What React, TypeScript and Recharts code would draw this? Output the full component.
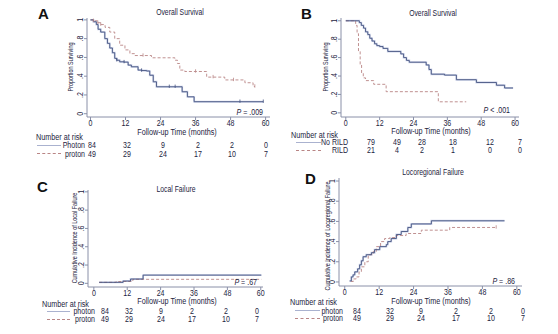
import React from "react";
import { LineChart, Line, XAxis, YAxis } from "recharts";

// Four Kaplan-Meier style panels (A-D) with number-at-risk tables.

const FONT = '"Liberation Sans", Arial, sans-serif';
const TEXT = "#1c2340";
const AXIS = "#8a90a8";
const SOLID = "#44527f";
const HALO = "#cdd4ea";
const DASH = "#b98585";

const X_TICKS = [0, 12, 24, 36, 48, 60];
const Y_TICKS = [0, 0.2, 0.4, 0.6, 0.8, 1];

// [time, value, censored?]
type Pt = [number, number, number?];

const osPhoton: Pt[] = [
  [0, 1], [1, 0.98], [2, 0.95], [2.6, 0.9], [3.5, 0.87], [4.9, 0.8], [5.8, 0.75],
  [6.6, 0.7], [7.5, 0.65], [8.3, 0.59], [9, 0.57, 1], [10, 0.553], [11.5, 0.55, 1],
  [12.9, 0.518], [14, 0.5], [16.3, 0.465], [17.5, 0.46, 1], [19.2, 0.455], [20.3, 0.41],
  [21.5, 0.34], [22.6, 0.287], [27, 0.287, 1], [29, 0.287, 1], [31.4, 0.234],
  [33.2, 0.18], [35.5, 0.128], [51.2, 0.128, 1], [59.2, 0.128, 1],
];
const osProton: Pt[] = [
  [0, 1], [1, 0.99, 1], [2.5, 0.97, 1], [3.5, 0.95, 1], [5, 0.92], [6.6, 0.87],
  [8.3, 0.8], [10, 0.73], [11.8, 0.68], [13.5, 0.64], [15.2, 0.62], [18, 0.62, 1],
  [20.9, 0.596], [28.9, 0.57], [29.8, 0.535], [30.6, 0.465], [32.3, 0.45],
  [36, 0.45, 1], [39.8, 0.39], [42, 0.39, 1], [46, 0.36], [49, 0.36, 1],
  [52.9, 0.33], [55.7, 0.29], [56.3, 0.29, 1],
];

const osNoRild: Pt[] = [
  [0, 1], [4.8, 0.98], [5.5, 0.95], [6.3, 0.92], [7, 0.88], [7.8, 0.85], [8.5, 0.81],
  [9.3, 0.78], [10.2, 0.75], [11, 0.73], [12, 0.72], [13.2, 0.7], [14.9, 0.667],
  [19.5, 0.64], [20.5, 0.6], [21.5, 0.57], [22.5, 0.55], [28.5, 0.52], [29.5, 0.47],
  [30.3, 0.42], [35, 0.41], [39.2, 0.36], [46.3, 0.33], [53.4, 0.3], [56.3, 0.27],
  [59.3, 0.27],
];
const osRild: Pt[] = [
  [0, 1], [3.5, 0.95], [4, 0.86], [4.5, 0.67], [5.1, 0.52], [5.6, 0.43], [6.2, 0.38],
  [7, 0.35], [9.9, 0.31], [14.3, 0.23], [32.8, 0.12], [42.7, 0.12],
];

const lfPhoton: Pt[] = [[1.9, 0.011], [10.5, 0.025], [13.2, 0.047], [17.7, 0.09], [60.2, 0.09]];
const lfProton: Pt[] = [[1.9, 0.011], [8, 0.02], [13.5, 0.035], [14.2, 0.044], [60.2, 0.044]];

const lrPhoton: Pt[] = [
  [1.7, 0.01], [2.3, 0.05], [2.9, 0.07], [3.5, 0.1], [4.5, 0.13], [5.2, 0.17], [5.8, 0.21],
  [6.4, 0.25], [7.5, 0.27], [9.3, 0.29], [10.4, 0.32], [12.2, 0.35], [14.5, 0.37],
  [15, 0.4], [16.2, 0.43], [18, 0.47], [19.7, 0.5], [22, 0.54], [23.2, 0.575],
  [30.2, 0.606], [55.7, 0.606],
];
const lrProton: Pt[] = [
  [2.2, 0.005], [3, 0.03], [4, 0.05], [5, 0.1], [5.8, 0.15], [7, 0.2], [8.2, 0.27],
  [9.9, 0.3], [11, 0.35], [12.5, 0.4], [13.9, 0.43], [15.7, 0.44], [18, 0.46],
  [21.4, 0.48], [26.7, 0.513], [36.6, 0.54], [52.8, 0.54, 1],
];

const riskPhoton = [84, 32, 9, 2, 2, 0];
const riskProton = [49, 29, 24, 17, 10, 7];
const riskNoRild = [79, 49, 28, 18, 12, 7];
const riskRild = [21, 4, 2, 1, 0, 0];

const toRows = (pts: Pt[]) => pts.map(([t, s, c]) => ({ t, s, c: c ? 1 : 0 }));

type P = {
  letter: string; letterPos: [number, number];
  title: string; titlePos: [number, number];
  yLabel: string; yLabelPos: [number, number];
  xTitlePos: [number, number];
  box: { l: number; r: number; t: number; b: number };
  xDom: [number, number]; yDom: [number, number];
  solid: Pt[]; dashed: Pt[];
  names: [string, string];
  risk: [number[], number[]];
  riskX: number[];
  rowsY: [number, number]; narPos: [number, number];
  lineX: [number, number]; nameR: number;
  pText: string; pPos: [number, number];
};

const panels: P[] = [
  {
    letter: "A", letterPos: [38, 13], title: "Overall Survival", titlePos: [180, 11.5],
    yLabel: "Proportion Surviving", yLabelPos: [70.7, 66.5], xTitlePos: [176.7, 131.5],
    box: { l: 87, r: 270, t: 18, b: 117 }, xDom: [-1.2, 61.5], yDom: [-0.035, 1.02],
    solid: osPhoton, dashed: osProton, names: ["Photon", "proton"],
    risk: [riskPhoton, riskProton], riskX: [91.5, 126.7, 163, 198.3, 232.3, 266],
    rowsY: [145, 153.5], narPos: [36, 137], lineX: [37, 61], nameR: 85,
    pText: ".009", pPos: [263, 111.7],
  },
  {
    letter: "B", letterPos: [301, 13], title: "Overall Survival", titlePos: [433, 13.3],
    yLabel: "Proportion Surviving", yLabelPos: [326.3, 66.7], xTitlePos: [431.3, 131],
    box: { l: 341, r: 519, t: 18, b: 117 }, xDom: [-1.7, 61.4], yDom: [-0.045, 1.03],
    solid: osNoRild, dashed: osRild, names: ["No RILD", "RILD"],
    risk: [riskNoRild, riskRild], riskX: [371.3, 397, 422, 453, 490, 519.7],
    rowsY: [142, 150], narPos: [291, 135], lineX: [296, 321], nameR: 348,
    pText: "< .001", pPos: [510.3, 110],
  },
  {
    letter: "C", letterPos: [37, 186], title: "Local Failure", titlePos: [175.7, 189],
    yLabel: "Cumulative Incidence of Local Failure", yLabelPos: [75, 238], xTitlePos: [177.3, 301.2],
    box: { l: 88, r: 263, t: 190, b: 287 }, xDom: [-2.1, 60.8], yDom: [-0.04, 1.02],
    solid: lfPhoton, dashed: lfProton, names: ["photon", "proton"],
    risk: [riskPhoton, riskProton], riskX: [105, 129, 161, 192.3, 225.7, 257.3],
    rowsY: [311, 319], narPos: [41.7, 304], lineX: [46.7, 70], nameR: 95,
    pText: ".67", pPos: [256.7, 282.3],
  },
  {
    letter: "D", letterPos: [305, 178], title: "Locoregional Failure", titlePos: [433, 172.3],
    yLabel: "Cumulative Incidence of Locoregional Failure", yLabelPos: [328, 236], xTitlePos: [431.3, 301],
    box: { l: 339, r: 522, t: 178, b: 286 }, xDom: [-2, 61.8], yDom: [-0.04, 1.03],
    solid: lrPhoton, dashed: lrProton, names: ["photon", "proton"],
    risk: [riskPhoton, riskProton], riskX: [357, 390.3, 421.3, 456.3, 491.3, 523],
    rowsY: [310.7, 318.3], narPos: [290, 302], lineX: [294.7, 319.7], nameR: 343,
    pText: ".86", pPos: [515.3, 280.7],
  },
];

// narrow-looking text: Liberation Sans squeezed horizontally
function T({ x, y, children, anchor = "middle", size = 8.5, sx = 0.85, rot = false, style = {} }: any) {
  const tx = anchor === "middle" ? "-50%" : anchor === "end" ? "-100%" : "0";
  const origin = anchor === "middle" ? "center" : anchor === "end" ? "right center" : "left center";
  return (
    <div
      style={{
        position: "absolute", left: x, top: y, whiteSpace: "nowrap", lineHeight: 1,
        fontFamily: FONT, fontSize: size, color: TEXT, transformOrigin: rot ? "center" : origin,
        transform: rot
          ? `translate(-50%, -50%) rotate(-90deg) scaleX(${sx})`
          : `translate(${tx}, -50%) scaleX(${sx})`,
        ...style,
      }}
    >
      {children}
    </div>
  );
}

const yFmt = (v: number) => (v === 0 ? "0" : v === 1 ? "1" : "." + Math.round(v * 10));

function YTick(props: any) {
  const { x, y, payload } = props;
  return (
    <text transform={`translate(${x} ${y}) rotate(-90) scale(0.85 1)`} textAnchor="middle"
      fontSize={8.3} fill={TEXT} fontFamily={FONT}>
      {yFmt(payload.value)}
    </text>
  );
}

function XTick(props: any) {
  const { x, y, payload } = props;
  return (
    <text transform={`translate(${x} ${y}) scale(0.85 1)`} textAnchor="middle" dy="0.72em"
      fontSize={8.3} fill={TEXT} fontFamily={FONT}>
      {payload.value}
    </text>
  );
}

const censorDot = (color: string) => (props: any) => {
  const { cx, cy, payload, index } = props;
  if (!payload || !payload.c) return <g key={`d${index}`} />;
  return <line key={`d${index}`} x1={cx} x2={cx} y1={cy - 2.2} y2={cy + 1.2} stroke={color} strokeWidth={0.8} />;
};

function Panel({ p }: { p: P }) {
  const solid = toRows(p.solid);
  const dashed = toRows(p.dashed);
  return (
    <>
      <div style={{ position: "absolute", left: 0, top: 0 }}>
        <LineChart width={558} height={334}
          margin={{ top: p.box.t, right: 558 - p.box.r, bottom: 334 - p.box.b - 20, left: p.box.l - 20 }}>
          <XAxis type="number" dataKey="t" domain={p.xDom} ticks={X_TICKS} allowDataOverflow
            interval={0} height={20} stroke={AXIS} tickSize={3} tickMargin={0} tick={<XTick />} />
          <YAxis type="number" dataKey="s" domain={p.yDom} ticks={Y_TICKS} allowDataOverflow
            interval={0} width={20} stroke={AXIS} tickSize={3} tickMargin={1} tick={<YTick />} />
          <Line data={solid} dataKey="s" type="stepAfter" stroke={HALO} strokeWidth={1.9}
            dot={false} activeDot={false} isAnimationActive={false} />
          <Line data={dashed} dataKey="s" type="stepAfter" stroke={DASH} strokeWidth={0.9}
            strokeDasharray="3 2" dot={censorDot(DASH)} activeDot={false} isAnimationActive={false} />
          <Line data={solid} dataKey="s" type="stepAfter" stroke={SOLID} strokeWidth={0.9}
            dot={censorDot(SOLID)} activeDot={false} isAnimationActive={false} />
        </LineChart>
      </div>
      <T x={p.letterPos[0]} y={p.letterPos[1]} anchor="start" size={15} sx={1}
        style={{ fontWeight: 700, color: "#111" }}>
        {p.letter}
      </T>
      <T x={p.titlePos[0]} y={p.titlePos[1]} size={8.3} sx={0.82}>{p.title}</T>
      <T x={p.yLabelPos[0]} y={p.yLabelPos[1]} size={6.8} sx={0.8} rot>{p.yLabel}</T>
      <T x={p.xTitlePos[0]} y={p.xTitlePos[1]} size={8.5}>Follow-up Time (months)</T>
      <T x={p.pPos[0]} y={p.pPos[1]} anchor="end" size={8.3}>
        <i>P</i> {p.pText.startsWith("<") ? p.pText : "= " + p.pText}
      </T>
      <T x={p.narPos[0]} y={p.narPos[1]} anchor="start" size={8.5}>Number at risk</T>
      <div style={{ position: "absolute", left: p.lineX[0], top: p.rowsY[0] - 0.5, width: p.lineX[1] - p.lineX[0], borderTop: `1.2px solid #aab2cf` }} />
      <div style={{ position: "absolute", left: p.lineX[0], top: p.rowsY[1] - 0.5, width: p.lineX[1] - p.lineX[0], borderTop: `1px dashed ${DASH}` }} />
      {p.names.map((n, i) => (
        <T key={n + i} x={p.nameR} y={p.rowsY[i]} anchor="end" size={8.3}>{n}</T>
      ))}
      {p.risk.map((row, i) =>
        row.map((v, j) => (
          <T key={`${i}-${j}`} x={p.riskX[j]} y={p.rowsY[i]} size={8.3}>{v}</T>
        ))
      )}
    </>
  );
}

export default function App() {
  return (
    <div style={{ position: "absolute", left: 0, top: 0, width: 558, height: 334, background: "#fff", overflow: "hidden" }}>
      {panels.map((p) => (
        <Panel key={p.letter} p={p} />
      ))}
    </div>
  );
}
